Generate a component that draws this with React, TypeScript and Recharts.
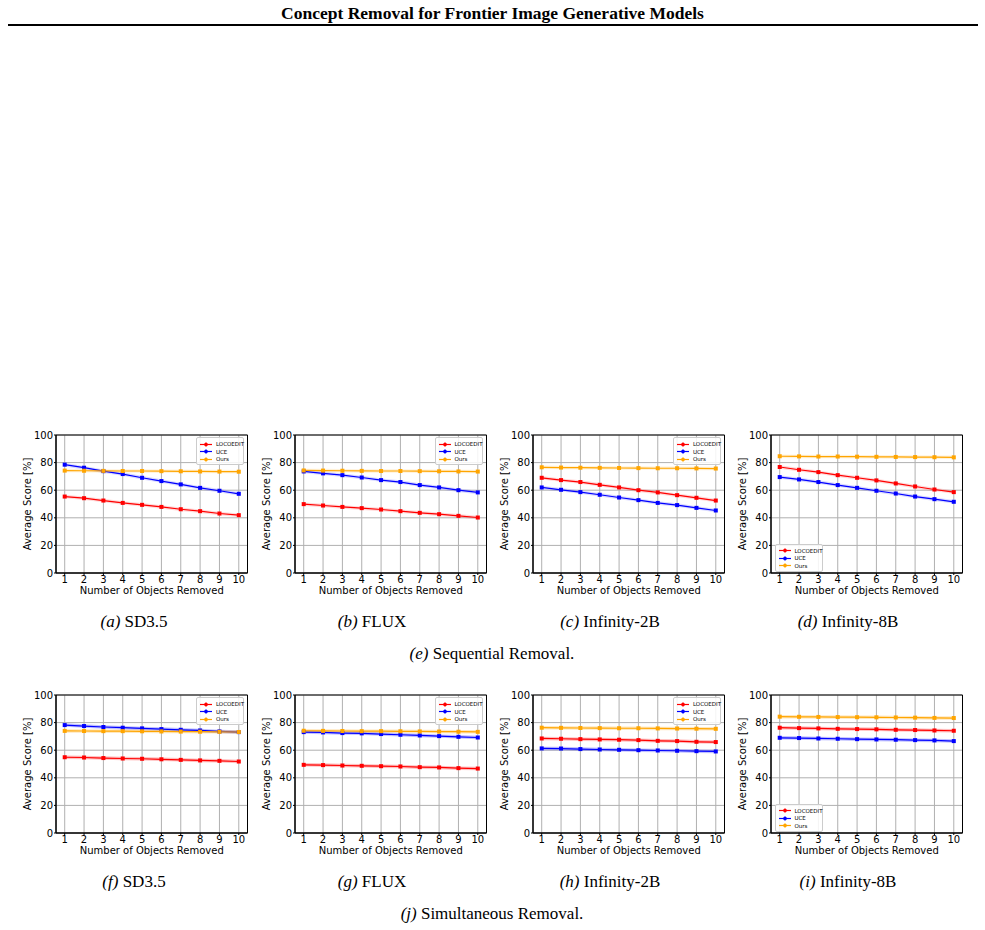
import React from "react";
import {
  LineChart,
  Line,
  XAxis,
  YAxis,
  CartesianGrid,
  Legend,
  ReferenceArea,
} from "recharts";

const objectsRemoved = [1, 2, 3, 4, 5, 6, 7, 8, 9, 10];
const scoreTicks = [0, 20, 40, 60, 80, 100];

// Sequential removal
const seqSd35Locoedit = [55.4, 54.2, 52.5, 50.8, 49.4, 47.9, 46.2, 44.8, 43.1, 41.9];
const seqSd35Uce = [78.5, 76.3, 73.8, 71.7, 69.0, 66.6, 64.2, 61.7, 59.6, 57.4];
const seqSd35Ours = [74.2, 74.1, 74.0, 73.9, 73.9, 73.8, 73.7, 73.6, 73.5, 73.4];
const seqFluxLocoedit = [49.9, 48.9, 47.9, 47.0, 46.0, 44.8, 43.6, 42.6, 41.4, 40.2];
const seqFluxUce = [73.6, 72.2, 70.9, 69.2, 67.3, 65.9, 63.7, 62.0, 60.0, 58.4];
const seqFluxOurs = [74.3, 74.2, 74.1, 74.0, 73.9, 73.9, 73.8, 73.7, 73.6, 73.5];
const seqInf2Locoedit = [69.0, 67.3, 65.9, 63.9, 62.0, 60.0, 58.4, 56.4, 54.5, 52.5];
const seqInf2Uce = [62.0, 60.3, 58.6, 56.7, 54.7, 52.8, 50.8, 49.2, 47.2, 45.3];
const seqInf2Ours = [76.6, 76.4, 76.3, 76.2, 76.1, 76.0, 75.9, 75.9, 75.8, 75.7];
const seqInf8Locoedit = [76.8, 74.8, 73.1, 70.9, 69.0, 67.1, 64.9, 62.7, 60.5, 58.6];
const seqInf8Uce = [69.5, 67.8, 65.9, 63.7, 61.7, 59.6, 57.6, 55.4, 53.5, 51.6];
const seqInf8Ours = [84.6, 84.5, 84.4, 84.4, 84.3, 84.2, 84.1, 84.0, 83.9, 83.8];

// Simultaneous removal
const simSd35Locoedit = [54.9, 54.7, 54.3, 54.0, 53.8, 53.4, 53.0, 52.6, 52.3, 51.8];
const simSd35Uce = [78.2, 77.5, 76.8, 76.3, 75.8, 75.3, 74.8, 74.3, 73.6, 73.1];
const simSd35Ours = [74.0, 73.9, 73.8, 73.8, 73.7, 73.6, 73.5, 73.4, 73.3, 73.2];
const simFluxLocoedit = [49.4, 49.2, 48.9, 48.7, 48.4, 48.2, 47.7, 47.5, 47.0, 46.7];
const simFluxUce = [73.1, 72.9, 72.4, 72.2, 71.7, 71.2, 70.7, 70.2, 69.7, 69.2];
const simFluxOurs = [74.1, 74.0, 73.9, 73.8, 73.8, 73.7, 73.6, 73.5, 73.4, 73.3];
const simInf2Locoedit = [68.5, 68.3, 68.0, 67.8, 67.6, 67.3, 66.8, 66.6, 66.1, 65.9];
const simInf2Uce = [61.3, 61.2, 60.8, 60.5, 60.3, 60.0, 59.8, 59.6, 59.3, 59.1];
const simInf2Ours = [76.3, 76.2, 76.1, 76.0, 75.9, 75.9, 75.8, 75.7, 75.6, 75.5];
const simInf8Locoedit = [76.3, 76.0, 75.8, 75.5, 75.3, 75.1, 74.8, 74.6, 74.3, 74.1];
const simInf8Uce = [69.0, 68.8, 68.5, 68.3, 68.0, 67.8, 67.6, 67.3, 67.1, 66.6];
const simInf8Ours = [84.3, 84.2, 84.1, 84.0, 83.9, 83.8, 83.7, 83.6, 83.4, 83.3];

const methods = [
  { key: "locoedit", name: "LOCOEDIT", color: "#ff0000" },
  { key: "uce", name: "UCE", color: "#0000ff" },
  { key: "ours", name: "Ours", color: "#ffa500" },
];

type Panel = {
  tag: string;
  model: string;
  locoedit: number[];
  uce: number[];
  ours: number[];
  legendLow?: boolean;
};

const sequentialPanels: Panel[] = [
  { tag: "(a)", model: "SD3.5", locoedit: seqSd35Locoedit, uce: seqSd35Uce, ours: seqSd35Ours },
  { tag: "(b)", model: "FLUX", locoedit: seqFluxLocoedit, uce: seqFluxUce, ours: seqFluxOurs },
  { tag: "(c)", model: "Infinity-2B", locoedit: seqInf2Locoedit, uce: seqInf2Uce, ours: seqInf2Ours },
  { tag: "(d)", model: "Infinity-8B", locoedit: seqInf8Locoedit, uce: seqInf8Uce, ours: seqInf8Ours, legendLow: true },
];

const simultaneousPanels: Panel[] = [
  { tag: "(f)", model: "SD3.5", locoedit: simSd35Locoedit, uce: simSd35Uce, ours: simSd35Ours },
  { tag: "(g)", model: "FLUX", locoedit: simFluxLocoedit, uce: simFluxUce, ours: simFluxOurs },
  { tag: "(h)", model: "Infinity-2B", locoedit: simInf2Locoedit, uce: simInf2Uce, ours: simInf2Ours },
  { tag: "(i)", model: "Infinity-8B", locoedit: simInf8Locoedit, uce: simInf8Uce, ours: simInf8Ours, legendLow: true },
];

const SANS = "'DejaVu Sans', sans-serif";
const SERIF = "'Liberation Serif', 'Times New Roman', serif";

// chart geometry
const CHART_W = 240;
const CHART_H = 180;
const MARGIN = { top: 8, right: 4.5, bottom: 4, left: 14 };
const Y_AXIS_W = 30;
const X_AXIS_H = 30;
const PLOT_W = CHART_W - MARGIN.left - MARGIN.right - Y_AXIS_W;
const PLOT_H = CHART_H - MARGIN.top - MARGIN.bottom - X_AXIS_H;
const PLOT_X = MARGIN.left + Y_AXIS_W;

const panelLefts = [12, 250.5, 489, 727];
const captionCenters = [134, 372, 610, 848];

function squareDot(color: string) {
  return (props: any) => {
    const { cx, cy, index } = props;
    if (cx == null || cy == null) return <g key={index} />;
    return <rect key={index} x={cx - 2} y={cy - 2} width={4} height={4} fill={color} />;
  };
}

function YLabel(props: any) {
  const { viewBox } = props;
  const x = viewBox.x + viewBox.width - 25;
  const y = viewBox.y + viewBox.height / 2;
  return (
    <text
      x={x}
      y={y}
      transform={`rotate(-90, ${x}, ${y})`}
      textAnchor="middle"
      fontSize={10}
      fontFamily={SANS}
      fill="#000"
    >
      Average Score [%]
    </text>
  );
}

function LegendBox() {
  return (
    <div
      style={{
        width: 48,
        boxSizing: "border-box",
        padding: "2px 2px 1px 3px",
        background: "rgba(255,255,255,0.85)",
        border: "0.6px solid #cccccc",
        borderRadius: 2,
        fontFamily: SANS,
        fontSize: 5.5,
        lineHeight: "8px",
        color: "#000",
      }}
    >
      {methods.map((m) => (
        <div key={m.key} style={{ display: "flex", alignItems: "center", height: 7.6 }}>
          <svg width={13} height={7} style={{ flex: "none" }}>
            <line x1={0} y1={3.5} x2={12} y2={3.5} stroke={m.color} strokeWidth={1.2} />
            <line x1={6} y1={1} x2={6} y2={6} stroke={m.color} strokeWidth={0.8} />
            <rect x={4.5} y={2} width={3} height={3} fill={m.color} />
          </svg>
          <span style={{ marginLeft: 3, whiteSpace: "nowrap" }}>{m.name}</span>
        </div>
      ))}
    </div>
  );
}

function PanelChart({ panel, bandOpacity }: { panel: Panel; bandOpacity: number }) {
  const data = objectsRemoved.map((n, i) => ({
    n,
    locoedit: panel.locoedit[i],
    uce: panel.uce[i],
    ours: panel.ours[i],
  }));

  const legendPos = panel.legendLow
    ? { left: PLOT_X + 3.5, top: MARGIN.top + PLOT_H - 4 - 25 }
    : { left: PLOT_X + PLOT_W - 3.5 - 48, top: MARGIN.top + 2.3 };

  return (
    <LineChart width={CHART_W} height={CHART_H} data={data} margin={MARGIN}>
      <CartesianGrid stroke="#b0b0b0" strokeWidth={1} />
      <XAxis
        dataKey="n"
        type="number"
        domain={[0.55, 10.45]}
        ticks={objectsRemoved}
        allowDataOverflow
        height={X_AXIS_H}
        tickSize={2}
        tickMargin={1}
        tick={{ fontSize: 10, fontFamily: SANS, fill: "#000" }}
        axisLine={{ stroke: "#000" }}
        tickLine={{ stroke: "#000" }}
        interval={0}
        label={{
          value: "Number of Objects Removed",
          position: "insideBottom",
          offset: 9,
          style: { fontSize: 10, fontFamily: SANS, fill: "#000" },
        }}
      />
      <YAxis
        type="number"
        domain={[0, 100]}
        ticks={scoreTicks}
        width={Y_AXIS_W}
        tickSize={2}
        tickMargin={1}
        tick={{ fontSize: 10, fontFamily: SANS, fill: "#000" }}
        axisLine={{ stroke: "#000" }}
        tickLine={{ stroke: "#000" }}
        interval={0}
        label={<YLabel />}
      />
      <ReferenceArea
        x1={0.55}
        x2={10.45}
        y1={0}
        y2={100}
        fill="none"
        stroke="#000"
        strokeWidth={1}
        ifOverflow="visible"
      />
      {/* faint spread band under each series */}
      {methods.map((m) => (
        <Line
          key={m.key + "-band"}
          dataKey={m.key}
          stroke={m.color}
          strokeOpacity={bandOpacity}
          strokeWidth={3.5}
          dot={false}
          activeDot={false}
          legendType="none"
          isAnimationActive={false}
        />
      ))}
      {methods.map((m) => (
        <Line
          key={m.key}
          dataKey={m.key}
          name={m.name}
          stroke={m.color}
          strokeWidth={1.2}
          dot={squareDot(m.color)}
          activeDot={false}
          isAnimationActive={false}
        />
      ))}
      <Legend
        layout="vertical"
        align="center"
        verticalAlign="middle"
        content={() => <LegendBox />}
        wrapperStyle={{ ...legendPos, width: 48, height: "auto" }}
      />
    </LineChart>
  );
}

const captionStyle: React.CSSProperties = {
  position: "absolute",
  textAlign: "center",
  fontFamily: SERIF,
  fontSize: 17,
  lineHeight: "17px",
  whiteSpace: "nowrap",
};

function Row({ panels, top, captionTop, tag, label, labelTop, bandOpacity }: {
  panels: Panel[];
  top: number;
  captionTop: number;
  tag: string;
  label: string;
  labelTop: number;
  bandOpacity: number;
}) {
  return (
    <>
      {panels.map((p, i) => (
        <div key={p.tag} style={{ position: "absolute", left: panelLefts[i], top: top - MARGIN.top }}>
          <PanelChart panel={p} bandOpacity={bandOpacity} />
        </div>
      ))}
      {panels.map((p, i) => (
        <div
          key={p.tag + "-cap"}
          style={{ ...captionStyle, left: captionCenters[i] - 100, width: 200, top: captionTop }}
        >
          <i style={{ fontFamily: SERIF }}>{p.tag}</i>{" "}
          <span style={{ fontFamily: SERIF }}>{p.model}</span>
        </div>
      ))}
      <div style={{ ...captionStyle, left: 292, width: 400, top: labelTop }}>
        <i style={{ fontFamily: SERIF }}>{tag}</i>{" "}
        <span style={{ fontFamily: SERIF }}>{label}</span>
      </div>
    </>
  );
}

export default function App() {
  return (
    <div
      style={{
        position: "absolute",
        left: 0,
        top: 0,
        width: 985,
        height: 930,
        background: "#fff",
        overflow: "hidden",
      }}
    >
      <div
        style={{
          position: "absolute",
          left: 0,
          width: 985,
          top: 4,
          textAlign: "center",
          fontFamily: SERIF,
          fontWeight: "bold",
          fontSize: 17.5,
          lineHeight: "18px",
        }}
      >
        Concept Removal for Frontier Image Generative Models
      </div>
      <div style={{ position: "absolute", left: 8, width: 970, top: 24, height: 2, background: "#000" }} />
      <Row
        panels={sequentialPanels}
        top={435}
        captionTop={613}
        tag="(e)"
        label="Sequential Removal."
        labelTop={645}
        bandOpacity={0.15}
      />
      <Row
        panels={simultaneousPanels}
        top={695}
        captionTop={873}
        tag="(j)"
        label="Simultaneous Removal."
        labelTop={905}
        bandOpacity={0.25}
      />
    </div>
  );
}
